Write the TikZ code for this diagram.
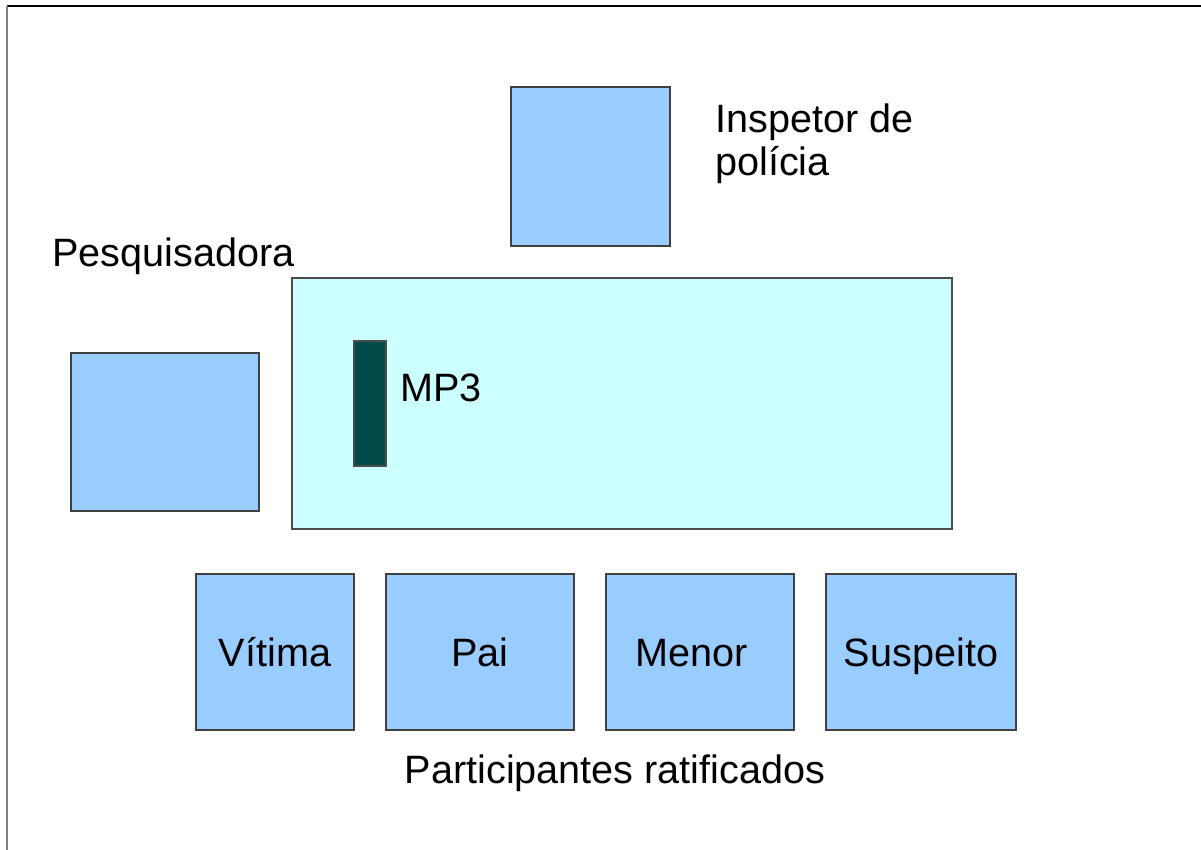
\documentclass[tikz,border=0pt]{standalone}
\usepackage{fontspec}
\setmainfont{Liberation Sans}
\usetikzlibrary{positioning}
\definecolor{seatblue}{HTML}{99CCFF}
\definecolor{tablecyan}{HTML}{CCFFFF}
\definecolor{mpteal}{HTML}{004A4A}

\begin{document}
\begin{tikzpicture}[x=1pt,y=-1pt,
  bigfont/.style={font=\fontsize{39.6}{44}\selectfont},
  seat/.style={draw=black!75, line width=1.2pt, fill=seatblue, bigfont, inner sep=0pt,
    text height=36pt, text depth=8pt},
  tablebox/.style={draw=black!70, line width=1.2pt, fill=tablecyan, inner sep=0pt},
  recorder/.style={draw=black!70, line width=1.2pt, fill=mpteal, inner sep=0pt},
  caption/.style={bigfont, inner sep=0pt}]
\useasboundingbox (0,0) rectangle (1201,850);
% frame of the slide
\draw[black, line width=1.5pt] (7,6) -- (1201,6);
\draw[gray, line width=2.2pt] (7,6) -- (7,850);

% table and people round it
\node[tablebox, minimum width=660pt, minimum height=251pt] (mesa) at (622,403.5) {};
\node[recorder, minimum width=32pt, minimum height=125pt] (mp3) at (370,403.5) {};
\node[caption, anchor=base west] (mp3label) at (400,401) {MP3};

\node[seat, minimum width=159pt, minimum height=159pt] (inspetor) at (590.5,166.5) {};
\node[caption, anchor=north west, align=left] (inspetorlabel) at (715,104) {Inspetor de\\[-1pt]polícia};

\node[seat, minimum width=188pt, minimum height=158pt] (pesquisadora) at (165,432) {};
\node[caption, anchor=base west] (pesqlabel) at (52,266) {Pesquisadora};

\node[seat, minimum width=158pt, minimum height=156pt] (vitima) at (275,652) {Vítima};
\node[seat, minimum width=188pt, minimum height=156pt] (pai) at (480,652) {Pai};
\node[seat, minimum width=188pt, minimum height=156pt] (menor) at (700,652) {Menor\kern16pt};
\node[seat, minimum width=190pt, minimum height=156pt] (suspeito) at (921,652) {Suspeito};

\node[caption, anchor=base] (ratificados) at (615,783) {Participantes ratificados};
\end{tikzpicture}
\end{document}
